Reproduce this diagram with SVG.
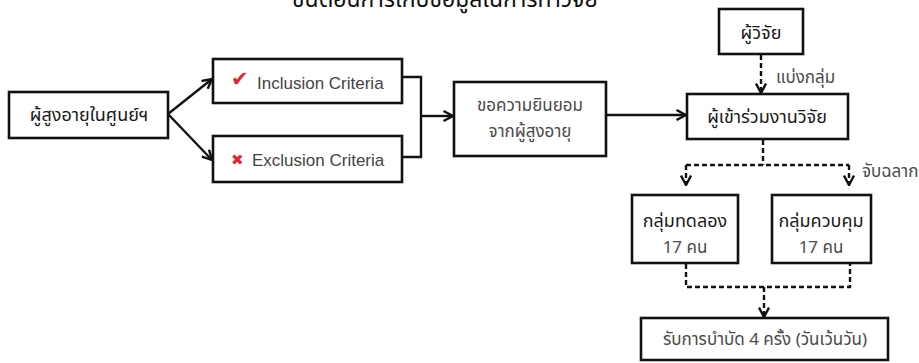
<svg xmlns="http://www.w3.org/2000/svg" width="919" height="363" viewBox="0 0 919 363">
<defs>
<style>
.box{fill:#fff;stroke:#111;stroke-width:2.6}
.ln{fill:none;stroke:#111;stroke-width:2.4}
.dash{fill:none;stroke:#111;stroke-width:2.4;stroke-dasharray:5 3}
.th{font-family:"Noto Sans Thai","Tahoma","Loma","Garuda","DejaVu Sans",sans-serif;text-anchor:middle}
.k{fill:#1a1a1a;font-size:18px}
.g{fill:#4a4a4a;font-size:17px}
.en{font-family:"Liberation Sans",Arial,sans-serif;fill:#444;font-size:17px}
.red{fill:#e0252e}
</style>
<marker id="ch" viewBox="0 0 12 12" refX="11" refY="6" markerWidth="12" markerHeight="12" markerUnits="userSpaceOnUse" orient="auto">
<path d="M1.5,1 L11,6 L1.5,11" fill="none" stroke="#111" stroke-width="2.4" stroke-dasharray="none"/>
</marker>
</defs>
<rect width="919" height="363" fill="#fff"/>
<text id="title" class="th" x="445" y="7" style="font-size:23px;fill:#111">ขั้นตอนการเก็บข้อมูลในการทำวิจัย</text>
<g id="connectors">
<path class="ln" d="M168,114 L212,79" marker-end="url(#ch)"/>
<path class="ln" d="M168,114 L212,160" marker-end="url(#ch)"/>
<path class="ln" d="M402,77 H421 V157 H402"/>
<path class="ln" d="M421,116 H453" marker-end="url(#ch)"/>
<path class="ln" d="M606,115 H686" marker-end="url(#ch)"/>
<path class="dash" d="M761,55 V93" marker-end="url(#ch)"/>
<path class="dash" d="M763,140 V165"/>
<path class="dash" d="M686,165 H849"/>
<path class="dash" d="M686,165 V185" marker-end="url(#ch)"/>
<path class="dash" d="M849,165 V185" marker-end="url(#ch)"/>
<path class="dash" d="M686,264 V287 H850 V264"/>
<path class="dash" d="M764,287 V317" marker-end="url(#ch)"/>
<text class="th g" x="776" y="83" style="text-anchor:start">แบ่งกลุ่ม</text>
<text class="th g" x="862" y="177" style="text-anchor:start">จับฉลาก</text>
</g>
<g id="elderly">
<rect class="box" x="9" y="92" width="159" height="46"/>
<text class="th k" x="89" y="121">ผู้สูงอายุในศูนย์ฯ</text>
</g>
<g id="inclusion">
<rect class="box" x="213" y="59" width="189" height="44"/>
<text class="red" x="231" y="86" style="font-family:'DejaVu Sans',sans-serif;font-size:21px">✔</text>
<text class="en" x="257" y="89">Inclusion Criteria</text>
</g>
<g id="exclusion">
<rect class="box" x="213" y="136" width="189" height="46"/>
<text class="red" x="231" y="165" style="font-family:'DejaVu Sans',sans-serif;font-size:15px">✖</text>
<text class="en" x="252" y="166">Exclusion Criteria</text>
</g>
<g id="consent">
<rect class="box" x="454" y="82" width="152" height="74"/>
<text class="th g" x="530" y="111">ขอความยินยอม</text>
<text class="th g" x="530" y="137">จากผู้สูงอายุ</text>
</g>
<g id="researcher">
<rect class="box" x="719" y="9" width="84" height="45"/>
<text class="th k" x="761" y="39">ผู้วิจัย</text>
</g>
<g id="participants">
<rect class="box" x="687" y="94" width="161" height="45"/>
<text class="th k" x="767" y="123">ผู้เข้าร่วมงานวิจัย</text>
</g>
<g id="experimental">
<rect class="box" x="632" y="195" width="106" height="68"/>
<text class="th k" x="685" y="227">กลุ่มทดลอง</text>
<text class="th g" x="685" y="253">17 คน</text>
</g>
<g id="control">
<rect class="box" x="772" y="195" width="99" height="68"/>
<text class="th k" x="821" y="227">กลุ่มควบคุม</text>
<text class="th g" x="821" y="253">17 คน</text>
</g>
<g id="therapy">
<rect class="box" x="641" y="318" width="247" height="42"/>
<text class="th g" x="765" y="345">รับการบำบัด 4 ครั้ง (วันเว้นวัน)</text>
</g>
</svg>
